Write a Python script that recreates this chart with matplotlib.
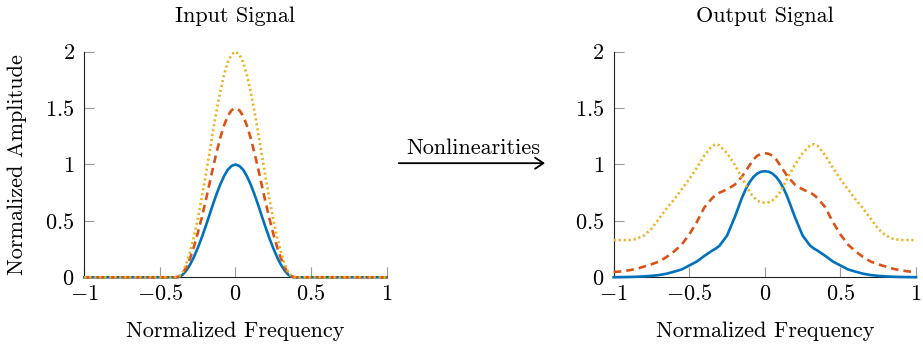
import numpy as np
import matplotlib
matplotlib.use("Agg")
import matplotlib.pyplot as plt
from matplotlib.patches import FancyArrowPatch

plt.rcParams['font.family'] = 'cmr10'
plt.rcParams['mathtext.fontset'] = 'cm'
plt.rcParams['axes.formatter.use_mathtext'] = True
plt.rcParams['lines.scale_dashes'] = False

# --- input spectra (three drive levels) ---
freq_in = [-1.0, -0.4, -0.375, -0.35, -0.325, -0.3, -0.275, -0.25, -0.225, -0.2,
           -0.175, -0.15, -0.125, -0.1, -0.075, -0.05, -0.025, 0.0,
           0.025, 0.05, 0.075, 0.1, 0.125, 0.15, 0.175, 0.2, 0.225,
           0.25, 0.275, 0.3, 0.325, 0.35, 0.375, 0.4, 1.0]
in_low = [0.0, 0.0, 0.003, 0.022, 0.060, 0.113, 0.180, 0.258, 0.345, 0.440,
          0.540, 0.642, 0.738, 0.825, 0.898, 0.955, 0.988, 1.000,
          0.988, 0.955, 0.898, 0.825, 0.738, 0.642, 0.540, 0.440, 0.345,
          0.258, 0.180, 0.113, 0.060, 0.022, 0.003, 0.0, 0.0]
in_mid = [0.0, 0.0, 0.005, 0.033, 0.090, 0.170, 0.270, 0.387, 0.518, 0.660,
          0.810, 0.963, 1.107, 1.238, 1.347, 1.433, 1.482, 1.500,
          1.482, 1.433, 1.347, 1.238, 1.107, 0.963, 0.810, 0.660, 0.518,
          0.387, 0.270, 0.170, 0.090, 0.033, 0.005, 0.0, 0.0]
in_high = [0.0, 0.0, 0.006, 0.044, 0.120, 0.226, 0.360, 0.516, 0.690, 0.880,
           1.080, 1.284, 1.476, 1.650, 1.796, 1.910, 1.976, 2.000,
           1.976, 1.910, 1.796, 1.650, 1.476, 1.284, 1.080, 0.880, 0.690,
           0.516, 0.360, 0.226, 0.120, 0.044, 0.006, 0.0, 0.0]

# --- output spectra after the nonlinearity ---
freq_out = [-1.0, -0.95, -0.9, -0.85, -0.8, -0.75, -0.7, -0.65, -0.6, -0.55,
            -0.5, -0.45, -0.4, -0.35, -0.325, -0.3, -0.25, -0.2, -0.15, -0.125,
            -0.1, -0.075, -0.05, -0.025, 0.0, 0.025, 0.05, 0.075, 0.1, 0.125,
            0.15, 0.2, 0.25, 0.3, 0.325, 0.35, 0.4, 0.45, 0.5, 0.55,
            0.6, 0.65, 0.7, 0.75, 0.8, 0.85, 0.9, 0.95, 1.0]
out_low = [0.001, 0.002, 0.003, 0.005, 0.008, 0.013, 0.020, 0.032, 0.050, 0.070,
           0.105, 0.140, 0.190, 0.235, 0.255, 0.280, 0.370, 0.530, 0.710, 0.785,
           0.845, 0.890, 0.920, 0.936, 0.940, 0.936, 0.920, 0.890, 0.845, 0.785,
           0.710, 0.530, 0.370, 0.280, 0.255, 0.235, 0.190, 0.140, 0.105, 0.070,
           0.050, 0.032, 0.020, 0.013, 0.008, 0.005, 0.003, 0.002, 0.001]
out_mid = [0.047, 0.052, 0.062, 0.075, 0.095, 0.115, 0.140, 0.180, 0.230, 0.290,
           0.380, 0.490, 0.620, 0.700, 0.730, 0.750, 0.780, 0.820, 0.895, 0.945,
           0.995, 1.045, 1.078, 1.095, 1.100, 1.095, 1.078, 1.045, 0.995, 0.945,
           0.895, 0.820, 0.780, 0.750, 0.730, 0.700, 0.620, 0.490, 0.380, 0.290,
           0.230, 0.180, 0.140, 0.115, 0.095, 0.075, 0.062, 0.052, 0.047]
out_high = [0.330, 0.330, 0.330, 0.340, 0.370, 0.430, 0.520, 0.610, 0.690, 0.780,
            0.870, 0.970, 1.080, 1.165, 1.180, 1.170, 1.100, 1.000, 0.880, 0.815,
            0.755, 0.712, 0.680, 0.665, 0.660, 0.665, 0.680, 0.712, 0.755, 0.815,
            0.880, 1.000, 1.100, 1.170, 1.180, 1.165, 1.080, 0.970, 0.870, 0.780,
            0.690, 0.610, 0.520, 0.430, 0.370, 0.340, 0.330, 0.330, 0.330]

x_ticks = [-1, -0.5, 0, 0.5, 1]
x_tick_labels = ['$-1$', '$-0.5$', '$0$', '$0.5$', '$1$']
y_ticks = [0, 0.5, 1, 1.5, 2]
y_tick_labels = ['$0$', '$0.5$', '$1$', '$1.5$', '$2$']

blue = '#0072BD'
red = '#D95319'
yellow = '#EDB120'
fs = 16


def draw_panel(ax, x, lo, mid, hi, title, ylabel=None):
    ax.plot(x, lo, color=blue, lw=1.9, clip_on=False, zorder=3)
    ax.plot(x, mid, color=red, lw=1.9, dashes=(5.5, 3.6), clip_on=False, zorder=3)
    ax.plot(x, hi, color=yellow, lw=1.9, dashes=(1.5, 2.1), clip_on=False, zorder=3)

    ax.set_xlim(-1, 1)
    ax.set_ylim(0, 2)
    ax.set_xticks(x_ticks)
    ax.set_xticklabels(x_tick_labels)
    ax.set_yticks(y_ticks)
    ax.set_yticklabels(y_tick_labels)
    ax.tick_params(direction='in', length=7.5, width=0.8, color='#999999',
                   labelsize=fs, pad=7)
    ax.tick_params(axis='x', pad=5)
    for side in ['top', 'right']:
        ax.spines[side].set_visible(False)
    for side in ['left', 'bottom']:
        ax.spines[side].set_linewidth(0.8)
        ax.spines[side].set_color('#222222')

    ax.set_title(title, fontsize=fs, y=1.13, pad=0)
    ax.set_xlabel('Normalized Frequency', fontsize=fs)
    ax.xaxis.set_label_coords(0.5, -0.195)
    if ylabel:
        ax.set_ylabel(ylabel, fontsize=fs)
        ax.yaxis.set_label_coords(-0.19, 0.5)


fig = plt.figure(figsize=(9.23, 3.45), dpi=100)
ax1 = fig.add_axes([0.0913, 0.1962, 0.3276, 0.654])
ax2 = fig.add_axes([0.6649, 0.1962, 0.3275, 0.654])

draw_panel(ax1, freq_in, in_low, in_mid, in_high, 'Input Signal',
           ylabel='Normalized Amplitude')
draw_panel(ax2, freq_out, out_low, out_mid, out_high, 'Output Signal')

# arrow between the two panels
arrow = FancyArrowPatch((0.429, 0.527), (0.5935, 0.527), transform=fig.transFigure,
                        arrowstyle='->,head_length=6,head_width=4',
                        lw=1.3, color='black', mutation_scale=1)
fig.add_artist(arrow)
fig.text(0.5125, 0.570, 'Nonlinearities', fontsize=fs, ha='center', va='center')

fig.savefig('out.png', dpi=100)
